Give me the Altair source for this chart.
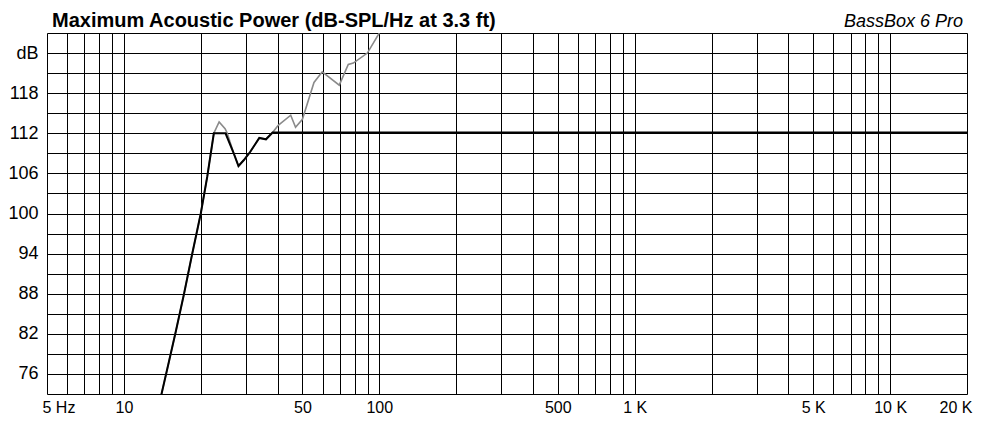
import altair as alt
import pandas as pd

# ---- data ----
FREQ_BLACK = [14.0, 15.0, 16.0, 17.2, 18.5, 20.0, 21.2, 22.5, 25.0, 26.8, 28.1, 29.5,
              31.2, 33.9, 36.0, 38.2, 40.0, 20000.0]
DB_BLACK = [72.8, 77.8, 82.5, 88.0, 93.9, 100.0, 105.5, 112.0, 112.0, 109.2, 107.1, 108.0,
            109.2, 111.3, 111.1, 112.1, 112.1, 112.1]

FREQ_GRAY = [14.0, 15.0, 16.0, 17.2, 18.5, 20.0, 21.2, 22.5, 23.6, 24.9, 25.4, 26.8, 28.1,
             29.5, 31.2, 33.9, 36.0, 38.2, 40.2, 45.0, 47.0, 50.0, 55.5, 59.8, 69.7, 75.6,
             79.1, 89.8, 100.0]
DB_GRAY = [72.8, 77.8, 82.5, 88.0, 93.9, 100.0, 105.5, 112.0, 113.7, 112.7, 112.0, 109.2, 107.1,
           108.0, 109.2, 111.3, 111.1, 112.1, 113.2, 114.7, 112.9, 114.1, 119.6, 121.2, 119.2, 122.3,
           122.5, 124.0, 127.0]

X_TICKS = [5, 6, 7, 8, 9, 10, 20, 30, 40, 50, 60, 70, 80, 90, 100, 200, 300, 400, 500, 600,
           700, 800, 900, 1000, 2000, 3000, 4000, 5000, 6000, 7000, 8000, 9000, 10000, 20000]
X_LABEL_VALUES = [5, 10, 50, 100, 500, 1000, 5000, 10000, 20000]
X_LABEL_TEXTS = ["5 Hz", "10", "50", "100", "500", "1 K", "5 K", "10 K", "20 K"]

Y_TICKS = list(range(73, 128, 3))
Y_LABEL_VALUES = [76, 82, 88, 94, 100, 106, 112, 118, 124]
Y_LABEL_TEXTS = ["76", "82", "88", "94", "100", "106", "112", "118", "dB"]

TITLE = "Maximum Acoustic Power (dB-SPL/Hz at 3.3 ft)"
BRAND = "BassBox 6 Pro"

FONT = "Liberation Sans"
W, H = 920, 361

black_df = pd.DataFrame({"freq": FREQ_BLACK, "db": DB_BLACK, "i": range(len(FREQ_BLACK))})
gray_df = pd.DataFrame({"freq": FREQ_GRAY, "db": DB_GRAY, "i": range(len(FREQ_GRAY))})

x_expr = "".join(f"datum.value == {v} ? '{t}' : " for v, t in zip(X_LABEL_VALUES, X_LABEL_TEXTS)) + "''"
y_expr = "".join(f"datum.value == {v} ? '{t}' : " for v, t in zip(Y_LABEL_VALUES, Y_LABEL_TEXTS)) + "''"

x_enc = alt.X(
    "freq:Q",
    scale=alt.Scale(type="log", domain=[5, 20000], nice=False),
    axis=alt.Axis(
        values=X_TICKS, labelExpr=x_expr, title=None, grid=True, gridColor="black",
        gridWidth=1, gridOpacity=1, ticks=False, domain=False, labelOverlap=False,
        labelBound=False, labelFlush=True, labelFlushOffset=5, labelPadding=5,
        labelFontSize=16, labelFont=FONT, labelColor="black",
    ),
)
y_enc = alt.Y(
    "db:Q",
    scale=alt.Scale(domain=[73, 127], nice=False, zero=False),
    axis=alt.Axis(
        values=Y_TICKS, labelExpr=y_expr, title=None, grid=True, gridColor="black",
        gridWidth=1, gridOpacity=1, ticks=False, domain=False, labelOverlap=False,
        labelPadding=9, labelFontSize=18, labelFont=FONT, labelColor="black",
    ),
)

gray = alt.Chart(gray_df).mark_line(color="#8a8a8a", strokeWidth=1.6, clip=True).encode(
    x=x_enc, y=y_enc, order="i:Q"
)
black = alt.Chart(black_df).mark_line(color="black", strokeWidth=2, clip=True).encode(
    x=x_enc, y=y_enc, order="i:Q"
)
title = alt.Chart(pd.DataFrame({"t": [TITLE]})).mark_text(
    align="left", baseline="alphabetic", font=FONT, fontSize=20, fontWeight="bold",
    color="black",
).encode(x=alt.value(5), y=alt.value(-6), text="t:N")
brand = alt.Chart(pd.DataFrame({"t": [BRAND]})).mark_text(
    align="right", baseline="alphabetic", font=FONT, fontSize=18, fontStyle="italic",
    color="black",
).encode(x=alt.value(W - 4), y=alt.value(-6), text="t:N")

chart = alt.layer(gray, black, title, brand).properties(
    width=W,
    height=H,
    autosize=alt.AutoSizeParams(type="none"),
    padding={"left": 39, "top": 25, "right": 12, "bottom": 21},
).configure_view(stroke="black", strokeWidth=1).configure(background="white")

chart.save("out.html", embed_options={"renderer": "svg", "actions": False})
